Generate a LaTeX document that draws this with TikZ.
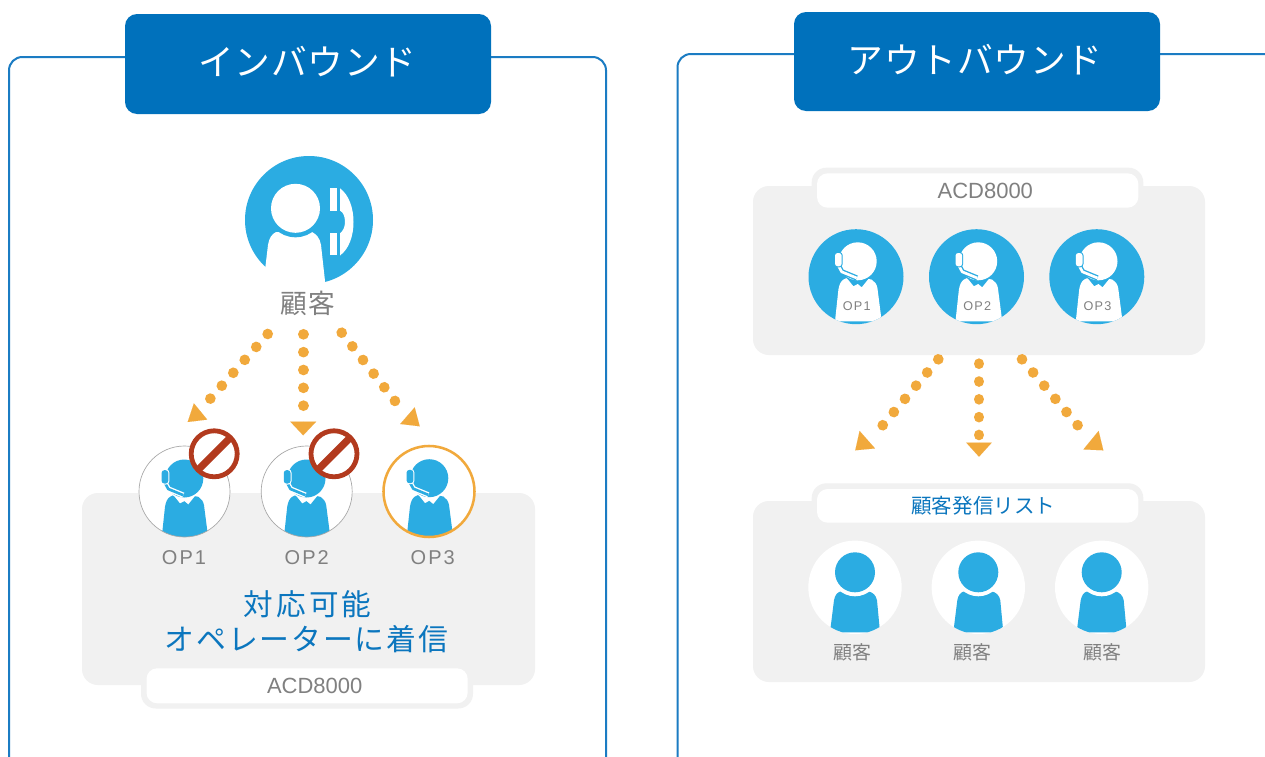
\documentclass[tikz,border=0pt]{standalone}
\usepackage{fontspec}
\usetikzlibrary{arrows.meta}
\setmainfont{Liberation Sans}
\newfontfamily\latinls[LetterSpace=10]{Liberation Sans}
\newfontfamily\cjk{Noto Sans CJK JP}
\newfontfamily\cjkhead[LetterSpace=2]{Noto Sans CJK JP}
\newfontfamily\cjkls[LetterSpace=6]{Noto Sans CJK JP}
\newfontfamily\cjklsb[LetterSpace=11]{Noto Sans CJK JP}
\definecolor{framec}{HTML}{1B7CC3}
\definecolor{headc}{HTML}{0071BC}
\definecolor{iconc}{HTML}{2BACE2}
\definecolor{textb}{HTML}{0B76BE}
\definecolor{textg}{HTML}{808080}
\definecolor{orangec}{HTML}{F1A93C}
\definecolor{redc}{HTML}{B23A1E}
\definecolor{panelc}{HTML}{F1F1F1}
\tikzset{
  frameline/.style={draw=framec,line width=1.5pt,rounded corners=10pt},
  headbox/.style={fill=headc,rounded corners=9pt},
  panelbox/.style={fill=panelc,rounded corners=12pt},
  tabouter/.style={fill=panelc,rounded corners=11pt},
  tabinner/.style={fill=white,rounded corners=8pt},
  label/.style={inner sep=0pt,anchor=center},
  headtext/.style={label,text=white,font=\cjkhead\fontsize{26.8pt}{29pt}\selectfont},
  dotline/.style={draw=orangec,line width=8pt,line cap=round,dash pattern=on 0.01pt off #1},
  tipline/.style 2 args={draw=orangec,fill=orangec,line width=0.01pt,-{Triangle[length=#1*0.75pt,width=#2*0.75pt]}},
}
% head centre at (#1,#2), clip circle centre (#3,#4) radius #5, colours #6 fg #7 bg
\newcommand{\opicon}[7]{%
  \begin{scope}
    \clip (#3,#4) circle (#5);
    \begin{scope}[shift={(#1,#2)}]
      \fill[#6] (-22.7,60) -- (-19.3,28.3) .. controls (-18.5,23.5) and (-17,20) .. (-14.3,18.3)
        -- (-11,16.7) -- (-4.3,25) -- (0,22.7) -- (4,26) -- (10.7,17.7) -- (14,18.3)
        .. controls (17,20) and (19,23) .. (19.7,26.7) -- (24,60) -- cycle;
      \fill[#7] (0,0) circle (20.3);
      \fill[#6] (0,0) circle (19);
      \draw[#7,line width=4pt,line join=round] (-19,5) -- (-16,10.5) -- (-1,16.7);
      \draw[#6,line width=2pt,line join=round] (-19,5) -- (-16,10.5) -- (-1,16.7);
      \fill[#7,rounded corners=2.5pt] (-23.7,-9.3) rectangle (-15,6);
      \fill[#6,rounded corners=2pt] (-22.7,-8.3) rectangle (-16,5);
    \end{scope}
  \end{scope}
}
\newcommand{\custicon}[2]{%
  \begin{scope}
    \clip (#1,#2) circle (46.7);
    \begin{scope}[shift={(#1,#2-15)}]
      \fill[iconc] (-25,60) -- (-21,28) .. controls (-20,23) and (-18,20) .. (-14,19) -- (13,19)
        .. controls (18,20) and (21,23) .. (22,28) -- (25,60) -- cycle;
      \fill[white] (0,0) circle (24);
      \fill[iconc] (0,0) circle (20);
    \end{scope}
  \end{scope}
}
\newcommand{\nosign}[2]{%
  \fill[white] (#1,#2) circle (25);
  \draw[redc,line width=3.6pt] (#1,#2) circle (23);
  \draw[redc,line width=5.4pt] (#1-15.5,#2+15.5) -- (#1+15.5,#2-15.5);
}
\begin{document}
\begin{tikzpicture}[x=0.75pt,y=-0.75pt]
\useasboundingbox (0,0) rectangle (1265,757);
\clip (0,0) rectangle (1265,757);
\fill[white] (0,0) rectangle (1265,757);

% frames and headers
\draw[frameline] (9,800) -- (9,57) -- (606,57) -- (606,800);
\draw[frameline] (677.5,800) -- (677.5,54) -- (1300,54);
\fill[headbox] (125,14) rectangle (491,114);
\fill[headbox] (794,12) rectangle (1160,111);
\node[headtext] (hin) at (307.5,62) {インバウンド};
\node[headtext] (hout) at (975,60) {アウトバウンド};

% left panel
\fill[panelbox] (82,493) rectangle (535,685);
\fill[tabouter] (141,660) rectangle (473,708.5);
\fill[tabinner] (146.5,668.3) rectangle (467.7,703.3);
\node[label,text=textg,font=\fontsize{16.5pt}{18pt}\selectfont] (acdl) at (314.7,686) {ACD8000};

% caller
\fill[iconc] (309,220) circle (64);
\fill[white] (265,270) -- (268,245) .. controls (269,238) and (272,234) .. (276,232)
  -- (312,232) .. controls (316,234) and (320,238) .. (321,245) -- (326,290) -- (326,298) -- (265,298) -- cycle;
\fill[iconc] (295.5,208.3) circle (29);
\fill[white] (295.5,208.3) circle (24.5);
\fill[white] (330,188.3) rectangle (337.3,210.7);
\fill[white] (330,233.3) rectangle (337.3,255);
\fill[white] (340,188.3) .. controls (349,195) and (353.5,208) .. (353.5,222)
  .. controls (353.5,236) and (349,249) .. (340,255.5) -- (340,233.3)
  .. controls (343,231) and (345,227) .. (345,222)
  .. controls (345,216) and (343,212) .. (340,210.7) -- cycle;
\node[label,text=textg,font=\cjkls\fontsize{20pt}{22pt}\selectfont] (caller) at (307.7,303.5) {顧客};

% left connectors
\coordinate (la1) at (267.7,334); \coordinate (la2) at (210.3,398.7);
\coordinate (lab) at (200.5,411.5); \coordinate (lat) at (187.7,422);
\coordinate (lb1) at (303.3,334.3); \coordinate (lb2) at (303.3,405.8);
\coordinate (lbb) at (303.2,421.7); \coordinate (lbt) at (303.2,435.3);
\coordinate (lc1) at (341.7,332.7); \coordinate (lc2) at (395,401);
\coordinate (lcb) at (407.5,415.7); \coordinate (lct) at (419.7,426.3);
\draw[dotline=12.95pt] (la1) -- (la2);
\draw[tipline={16.6}{21}] (lab) -- (lat);
\draw[dotline=13.37pt] (lb1) -- (lb2);
\draw[tipline={13.6}{25.7}] (lbb) -- (lbt);
\draw[dotline=12.97pt] (lc1) -- (lc2);
\draw[tipline={16.2}{22}] (lcb) -- (lct);

% left operators
\fill[white] (184.5,491.5) circle (45.5);
\fill[white] (306.7,491.5) circle (45.5);
\fill[white] (429,491.5) circle (46.5);
\opicon{184.3}{478.5}{184.5}{491.5}{45.5}{iconc}{white}
\opicon{306.5}{478.5}{306.7}{491.5}{45.5}{iconc}{white}
\opicon{429.3}{478.2}{429}{491.5}{45.5}{iconc}{white}
\draw[black!35,line width=0.5pt] (184.5,491.5) circle (45.5);
\draw[black!35,line width=0.5pt] (306.7,491.5) circle (45.5);
\draw[orangec,line width=1.9pt] (429,491.5) circle (45.5);
\nosign{214.2}{453.8}
\nosign{334}{453.8}
\node[label,text=textg,font=\latinls\fontsize{15pt}{17pt}\selectfont] (ol1) at (184,557.5) {OP1};
\node[label,text=textg,font=\latinls\fontsize{15pt}{17pt}\selectfont] (ol2) at (306.7,557.5) {OP2};
\node[label,text=textg,font=\latinls\fontsize{15pt}{17pt}\selectfont] (ol3) at (432.7,557.5) {OP3};
\node[label,text=textb,font=\cjklsb\fontsize{22.2pt}{24pt}\selectfont] (t1) at (307.5,604.5) {対応可能};
\node[label,text=textb,font=\cjkls\fontsize{22.4pt}{24pt}\selectfont] (t2) at (306.5,639.5) {オペレーターに着信};

% right top panel
\fill[panelbox] (753,186) rectangle (1205,355);
\fill[tabouter] (811.7,167.7) rectangle (1143.3,215);
\fill[tabinner] (817,173.3) rectangle (1138.3,207.7);
\node[label,text=textg,font=\fontsize{16.5pt}{18pt}\selectfont] (acdr) at (985.3,191) {ACD8000};
\foreach \cx/\n in {856/1,976.5/2,1096.8/3}{
  \fill[iconc] (\cx,276.7) circle (47.5);
  \opicon{\cx+1.7}{261.3}{\cx}{276.7}{47.5}{white}{iconc}
  \node[label,text=textg,font=\latinls\fontsize{9.5pt}{11pt}\selectfont] (or\n) at (\cx+0.7,306) {OP\n};
}

% right connectors
\coordinate (ra1) at (938.3,359.3); \coordinate (ra2) at (882.7,425.3);
\coordinate (rab) at (867.3,439.7); \coordinate (rat) at (855.3,450.3);
\coordinate (rb1) at (979,363.7); \coordinate (rb2) at (979,435);
\coordinate (rbb) at (979,442.7); \coordinate (rbt) at (979,456.7);
\coordinate (rc1) at (1022,359.3); \coordinate (rc2) at (1077.7,425.3);
\coordinate (rcb) at (1091,440.2); \coordinate (rct) at (1103.3,450.3);
\draw[dotline=12.92pt] (ra1) -- (ra2);
\draw[tipline={16}{23.3}] (rab) -- (rat);
\draw[dotline=13.35pt] (rb1) -- (rb2);
\draw[tipline={14}{25.3}] (rbb) -- (rbt);
\draw[dotline=12.92pt] (rc1) -- (rc2);
\draw[tipline={15.9}{23.9}] (rcb) -- (rct);

% right bottom panel
\fill[panelbox] (753,501) rectangle (1205,682);
\fill[tabouter] (811.7,483.3) rectangle (1143.3,530);
\fill[tabinner] (817,489) rectangle (1138.3,522.7);
\node[label,text=textb,font=\cjk\fontsize{15.4pt}{17pt}\selectfont] (list) at (983.3,505.7) {顧客発信リスト};
\foreach \cx in {855,978.3,1101.7}{
  \fill[white] (\cx,587.3) circle (46.7);
  \custicon{\cx}{587.3}
}
\node[label,text=textg,font=\cjk\fontsize{14.2pt}{16pt}\selectfont] (c1) at (852.3,652.3) {顧客};
\node[label,text=textg,font=\cjk\fontsize{14.2pt}{16pt}\selectfont] (c2) at (972.3,652.3) {顧客};
\node[label,text=textg,font=\cjk\fontsize{14.2pt}{16pt}\selectfont] (c3) at (1102.7,652.3) {顧客};
\end{tikzpicture}
\end{document}
